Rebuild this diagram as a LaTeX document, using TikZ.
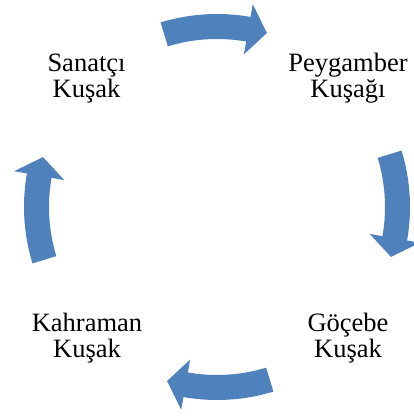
\documentclass[tikz,border=0pt]{standalone}
\usepackage{fontspec}
\setmainfont{Liberation Serif}
\definecolor{arrowblue}{HTML}{4F81BD}
\tikzset{
  arrowshape/.style={fill=arrowblue, draw=none},
  label/.style={align=center, inner sep=0pt, font=\fontsize{26.5}{26}\selectfont, anchor=base}
}
\newcommand\cyclearrow[1]{%
  \path[arrowshape] ([shift={(#1+17:193pt)}]C)
    arc[start angle=#1+17, end angle=#1-10, radius=193pt]
    -- ([shift={(#1-10:206pt)}]C)
    -- ([shift={(#1-16:181pt)}]C)
    -- ([shift={(#1-10:155pt)}]C)
    -- ([shift={(#1-10:168pt)}]C)
    arc[start angle=#1-10, end angle=#1+17, radius=168pt]
    -- cycle;}
\begin{document}
\begin{tikzpicture}[x=1pt,y=1pt]
\useasboundingbox (0,0) rectangle (414,417);
\coordinate (C) at (217,210);
\cyclearrow{90}
\cyclearrow{0}
\cyclearrow{-90}
\cyclearrow{180}
\node[label] (sanatci) at (86.5,319) {Sanatçı\\Kuşak};
\node[label] (peygamber) at (348,319) {Peygamber\\Kuşağı};
\node[label] (kahraman) at (87,59) {Kahraman\\Kuşak};
\node[label] (gocebe) at (348,59) {Göçebe\\Kuşak};
\end{tikzpicture}
\end{document}
